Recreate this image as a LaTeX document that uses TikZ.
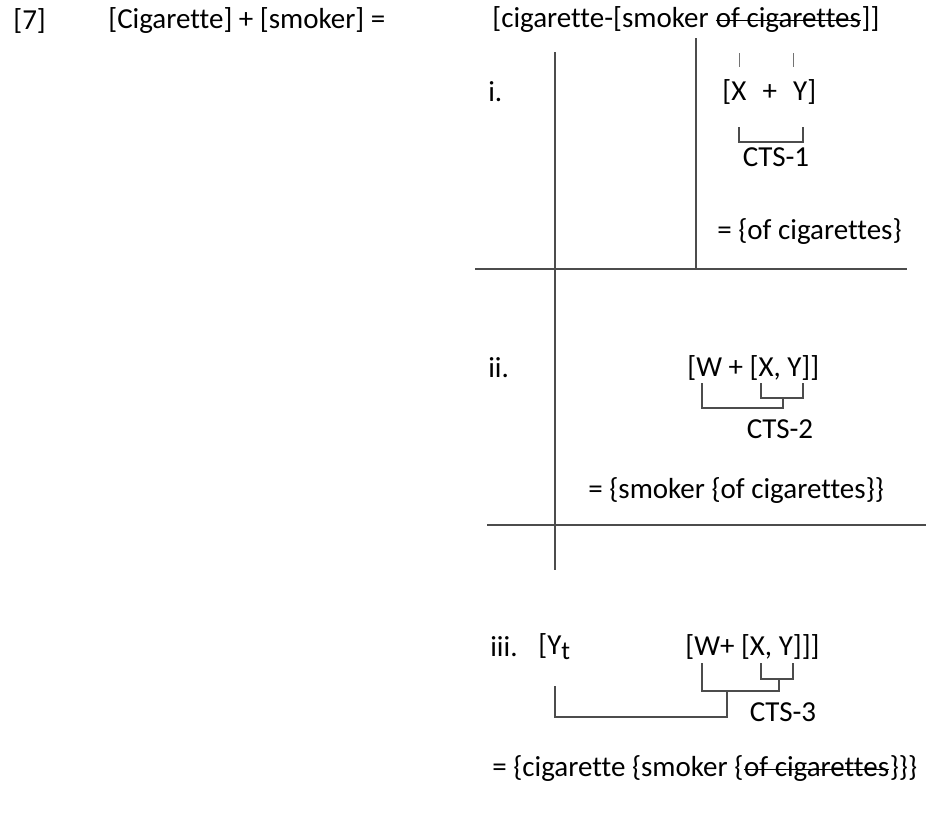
\documentclass[tikz,border=0pt]{standalone}
\usepackage{fontspec}
\setmainfont{Carlito}[Ligatures=NoCommon]
\usetikzlibrary{positioning}

\newcommand{\subt}{\raisebox{-0.35ex}{\scalebox{0.9}{t}}}
\newcommand{\gap}{\kern\fontdimen2\font}

\begin{document}
\begin{tikzpicture}[
    x=0.02cm, y=-0.02cm,
    txt/.style={anchor=west, inner sep=0pt, font=\fontsize{16.5}{20}\selectfont},
    cont/.style={anchor=base west, inner sep=0pt, font=\fontsize{16.5}{20}\selectfont},
    lbl/.style={inner sep=0pt, font=\fontsize{16.5}{20}\selectfont},
    rule/.style={line width=0.9pt, draw=black!70},
    brk/.style={line width=0.8pt, draw=black!70},
    tick/.style={line width=0.5pt, draw=black!55},
    strk/.style={line width=0.6pt, draw=black},
]
\useasboundingbox (0,0) rectangle (926,825);

% header row
\node [txt] (num) at (13,21) {[7]};
\node [txt] (sum) at (108,21) {[Cigarette] + [smoker] =};
\node [txt] (res) at (492,20) {[cigarette-[smoker\gap};
\node [cont] (res-st) at (res.base east) {of cigarettes};
\node [cont] (res-end) at (res-st.base east) {]]};
\draw [strk] ([yshift=4.2pt]res-st.base west) -- ([yshift=4.2pt]res-st.base east);

% grid lines
\coordinate (colA-top) at (555,52);
\coordinate (colA-bot) at (555,570);
\coordinate (colB-top) at (696,38);
\coordinate (colB-bot) at (696,269);
\coordinate (rowA-l) at (475,269);
\coordinate (rowA-r) at (907,269);
\coordinate (rowB-l) at (487,525);
\coordinate (rowB-r) at (926,525);
\draw [rule] (colA-top) -- (colA-bot);
\draw [rule] (colB-top) -- (colB-bot);
\draw [rule] (rowA-l) -- (rowA-r);
\draw [rule] (rowB-l) -- (rowB-r);

% step i
\node [txt] (i-lab) at (488,92) {i.};
\node [txt] (i-expr) at (722,92) {[X\,\, +\,\, Y]};
\coordinate (i-x) at (739,127);
\coordinate (i-y) at (803,127);
\coordinate (i-xt) at (739,53);
\coordinate (i-yt) at (793,53);
\draw [tick] (i-xt) -- ++(0,14);
\draw [tick] (i-yt) -- ++(0,14);
\draw [brk] (i-x) -- ++(0,15) -| (i-y);
\node [lbl] (cts1) at (776,157) {CTS-1};
\node [txt] (i-res) at (717,232) {= \{of cigarettes\}};

% step ii
\node [txt] (ii-lab) at (488,368) {ii.};
\node [txt] (ii-expr) at (687,368) {[W + [X, Y]]};
\coordinate (ii-w) at (702,383);
\coordinate (ii-x) at (761,383);
\coordinate (ii-y) at (803,383);
\coordinate (ii-in) at (783,398);
\coordinate (ii-out) at (783,408);
\draw [brk] (ii-x) |- (ii-in) -| (ii-y);
\draw [brk] (ii-w) |- (ii-out) -- (ii-in);
\node [lbl] (cts2) at (780,429) {CTS-2};
\node [txt] (ii-res) at (588,491) {= \{smoker \{of cigarettes\}\}};

% step iii
\node [txt] (iii-lab) at (490,647) {iii.};
\node [txt] (iii-yt) at (538,647) {[Y\subt};
\node [txt] (iii-expr) at (685,647) {[W+ [X, Y]]]};
\coordinate (iii-w) at (702,663);
\coordinate (iii-x) at (761,663);
\coordinate (iii-y) at (793,663);
\coordinate (iii-in) at (779,679);
\coordinate (iii-mid) at (779,691);
\coordinate (iii-up) at (727,691);
\coordinate (iii-t) at (555,686);
\coordinate (iii-out) at (727,717);
\draw [brk] (iii-x) |- (iii-in) -| (iii-y);
\draw [brk] (iii-w) |- (iii-mid) -- (iii-in);
\draw [brk] (iii-t) |- (iii-out) -- (iii-up);
\node [lbl] (cts3) at (783,712) {CTS-3};
\node [txt] (iii-res) at (492,769) {= \{cigarette \{smoker \{};
\node [cont] (iii-st) at (iii-res.base east) {of cigarettes};
\node [cont] (iii-end) at (iii-st.base east) {\}\}\}};
\draw [strk] ([yshift=4.2pt]iii-st.base west) -- ([yshift=4.2pt]iii-st.base east);

\end{tikzpicture}
\end{document}
